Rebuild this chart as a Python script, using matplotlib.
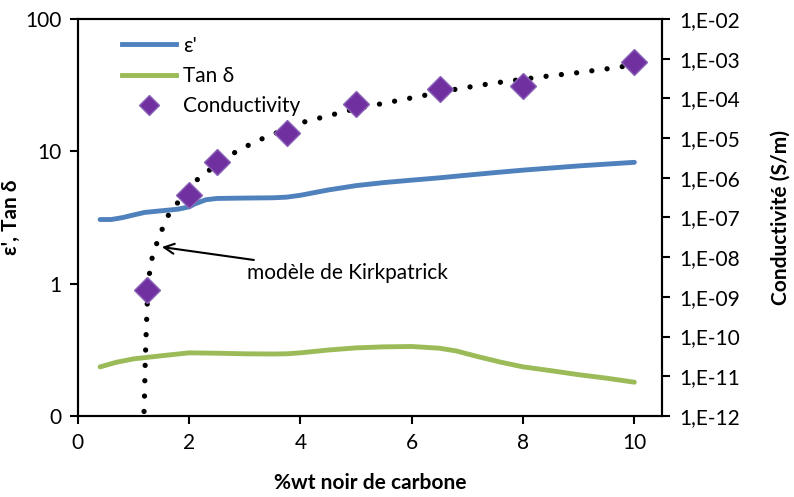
import matplotlib
matplotlib.use("Agg")
import matplotlib.pyplot as plt
from matplotlib.ticker import FixedLocator, FixedFormatter, NullLocator
from matplotlib.lines import Line2D

plt.rcParams['font.family'] = ['Lato', 'DejaVu Sans']

# Data
x_eps = [0.4, 0.6, 0.8, 1.0, 1.2, 1.5, 1.8, 2.0, 2.1, 2.3, 2.5, 3.0, 3.5, 3.75, 4.0,
         4.5, 5.0, 5.5, 6.0, 6.5, 7.0, 7.5, 8.0, 9.0, 10.0]
eps = [3.05, 3.05, 3.15, 3.3, 3.45, 3.55, 3.65, 3.8, 4.0, 4.3, 4.4, 4.43, 4.45, 4.5, 4.65,
       5.1, 5.5, 5.8, 6.05, 6.3, 6.6, 6.9, 7.2, 7.75, 8.25]

x_tan = [0.4, 0.7, 1.0, 1.5, 2.0, 2.5, 3.0, 3.5, 3.75, 4.0, 4.5, 5.0, 5.5, 6.0, 6.5,
         6.8, 7.2, 7.6, 8.0, 8.5, 9.0, 9.5, 10.0]
tan_d = [0.235, 0.255, 0.27, 0.285, 0.30, 0.298, 0.295, 0.294, 0.295, 0.30, 0.315, 0.327,
         0.333, 0.335, 0.325, 0.31, 0.28, 0.255, 0.235, 0.22, 0.205, 0.193, 0.18]

x_cond = [1.25, 2.0, 2.5, 3.75, 5.0, 6.5, 8.0, 10.0]
cond = [1.5e-9, 3.7e-7, 2.5e-6, 1.3e-5, 7.0e-5, 1.7e-4, 2.0e-4, 8.3e-4]

x_model = [1.19, 1.2, 1.21, 1.23, 1.25, 1.3, 1.38, 1.51, 1.58, 1.71, 2.14, 2.32, 2.68,
           2.84, 3.04, 3.22, 3.42, 4.0, 5.0, 5.79, 6.8, 7.46, 8.35, 8.97, 9.62, 10.0]
model = [1.3e-12, 4e-12, 2e-11, 1.5e-10, 8.4e-10, 6.3e-9, 1.6e-8, 4.8e-8, 9e-8, 1.7e-7,
         8.8e-7, 1.4e-6, 3.2e-6, 4.5e-6, 6.3e-6, 8.5e-6, 1.1e-5, 2.4e-5, 5.5e-5, 9e-5,
         1.7e-4, 2.4e-4, 3.5e-4, 4.4e-4, 5.8e-4, 7e-4]

left_ticks = [0.1, 1, 10, 100]
left_labels = ["0", "1", "10", "100"]
right_ticks = [10.0 ** e for e in range(-12, -1)]
right_labels = ["1,E-%02d" % (-e) for e in range(-12, -1)]
x_ticks = [0, 2, 4, 6, 8, 10]

blue = "#4F81BD"
green = "#9BBB59"
purple = "#7030A0"
FS = 15

fig = plt.figure(figsize=(7.94, 4.97), dpi=100)
ax = fig.add_axes([0.098, 0.163, 0.736, 0.799])
ax2 = ax.twinx()

ax.plot(x_eps, eps, color=blue, lw=3.5, solid_capstyle='round', label="ε'")
ax.plot(x_tan, tan_d, color=green, lw=3.5, solid_capstyle='round', label="Tan δ")

ax2.plot(x_model, model, color='black', lw=3.8, linestyle=(0, (0.01, 2.9)),
         dash_capstyle='round')
ax2.plot(x_cond, cond, linestyle='none', marker='D', ms=13, color=purple,
         markeredgecolor='#8A63B8', markeredgewidth=1.0, label="Conductivity")

ax.set_yscale('log')
ax.set_ylim(0.1, 100)
ax.set_xlim(0, 10.5)
ax2.set_yscale('log')
ax2.set_ylim(1e-12, 1e-2)

ax.yaxis.set_major_locator(FixedLocator(left_ticks))
ax.yaxis.set_major_formatter(FixedFormatter(left_labels))
ax.yaxis.set_minor_locator(NullLocator())
ax2.yaxis.set_major_locator(FixedLocator(right_ticks))
ax2.yaxis.set_major_formatter(FixedFormatter(right_labels))
ax2.yaxis.set_minor_locator(NullLocator())
ax.xaxis.set_major_locator(FixedLocator(x_ticks))

for a in (ax, ax2):
    for s in a.spines.values():
        s.set_linewidth(1.5)
        s.set_color('black')
    a.tick_params(axis='both', which='major', direction='out', length=6, width=1.5,
                  labelsize=FS, pad=6)

ax.set_xlabel("%wt noir de carbone", fontsize=FS, fontweight='bold', labelpad=15)
ax.set_ylabel("ε', Tan δ", fontsize=FS, fontweight='bold', labelpad=3)
ax2.set_ylabel("Conductivité (S/m)", fontsize=FS, fontweight='bold', labelpad=22)

ax.annotate("modèle de Kirkpatrick", xy=(1.51, 1.89), xytext=(3.04, 1.2),
            fontsize=FS, va='center', ha='left',
            arrowprops=dict(arrowstyle='->', color='black', lw=1.5,
                            shrinkA=2, shrinkB=0, mutation_scale=18))

handles = [Line2D([], [], color=blue, lw=3.5),
           Line2D([], [], color=green, lw=3.5),
           Line2D([], [], linestyle='none', marker='D', ms=10, color=purple,
                  markeredgecolor='#8A63B8')]
ax2.legend(handles, ["ε'", "Tan δ", "Conductivity"], loc='upper left',
           bbox_to_anchor=(0.044, 1.005), frameon=False, fontsize=FS,
           handlelength=2.6, handletextpad=0.3, labelspacing=0.5)

fig.savefig("out.png", dpi=100)
